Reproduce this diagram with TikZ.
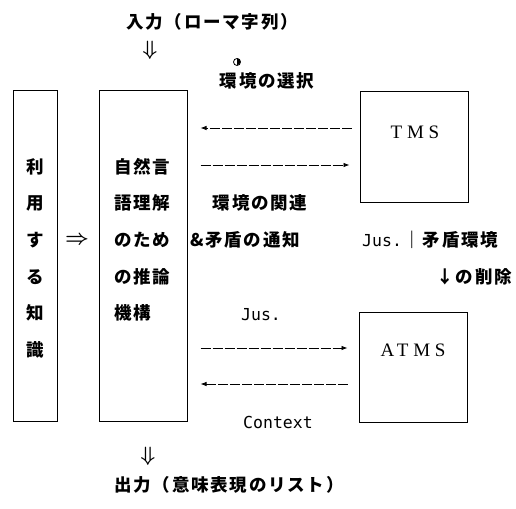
\documentclass[tikz,border=0pt]{standalone}
\usepackage{fontspec}
\newfontfamily\cjk[LetterSpace=10]{Noto Sans CJK JP}
\newfontfamily\mono{DejaVu Sans Mono}
\newfontfamily\serifl[LetterSpace=25]{Liberation Serif}
\usetikzlibrary{arrows.meta}
\begin{document}
\begin{tikzpicture}[x=1pt,y=-1pt,
  box/.style={draw, line width=1pt, inner sep=0pt},
  jp/.style={font=\cjk\bfseries\fontsize{17.5}{17.5}\selectfont, inner sep=0pt},
  lat/.style={font=\mono\fontsize{16.5}{16.5}\selectfont, inner sep=0pt},
  sys/.style={font=\serifl\fontsize{19}{19}\selectfont, inner sep=0pt},
  sym/.style={font=\boldmath\fontsize{20}{20}\selectfont, inner sep=0pt},
  flow/.style={line width=0.8pt, dash pattern=on 10pt off 2pt, -{Latex[length=6pt,width=4.5pt]}}
]
\useasboundingbox (0,0) rectangle (516,508);

% boxes
\node[box, minimum width=44pt, minimum height=330pt] (know) at (35,256) {};
\node[box, minimum width=88pt, minimum height=330pt] (engine) at (143,256) {};
\node[box, minimum width=108pt, minimum height=110pt] (tms) at (414,147) {};
\node[box, minimum width=108pt, minimum height=110pt] (atms) at (413,367) {};

% left box text
\node[jp] (k1) at (35,167) {利};
\node[jp] (k2) at (35,203) {用};
\node[jp] (k3) at (35,240) {す};
\node[jp] (k4) at (35,277) {る};
\node[jp] (k5) at (35,313) {知};
\node[jp] (k6) at (35,350) {識};

% middle box text
\node[jp, anchor=west] (e1) at (114,167) {自然言};
\node[jp, anchor=west] (e2) at (114,203) {語理解};
\node[jp, anchor=west] (e3) at (114,240) {のため};
\node[jp, anchor=west] (e4) at (114,277) {の推論};
\node[jp, anchor=west] (e5) at (114,313) {機構};

\node[sym] (imp) at (77,240) {$\Rightarrow$};

% input / output
\node[jp] (in) at (212,22) {入力（ローマ字列）};
\node[sym] (din) at (150,50) {$\Downarrow$};
\node[sym] (dout) at (148,456) {$\Downarrow$};
\node[jp] (out) at (229,485) {出力（意味表現のリスト）};

% ornament
\node[circle, draw, line width=0.8pt, minimum size=7pt, inner sep=0pt] (orn) at (237,62) {};
\fill (orn.north) arc (90:-90:3.5pt) -- cycle;

% TMS / ATMS
\node[sys] (tmsl) at (415,132) {TMS};
\node[sys] (atmsl) at (413,350) {ATMS};

% arrows
\draw[flow, shorten <=8pt, shorten >=13pt] (tms.west |- 0,128) -- (engine.east |- 0,128);
\draw[flow, shorten <=13pt, shorten >=10pt] (engine.east |- 0,165) -- (tms.west |- 0,165);
\draw[flow, shorten <=13pt, shorten >=11pt] (engine.east |- 0,348) -- (atms.west |- 0,348);
\draw[flow, shorten <=11pt, shorten >=13pt] (atms.west |- 0,384) -- (engine.east |- 0,384);

% labels
\node[jp] (sel) at (267,81) {環境の選択};
\node[jp] (rel) at (260,203) {環境の関連};
\node[jp] (ntf) at (245,240) {\&矛盾の通知};
\node[inner sep=0pt, anchor=west] (jus1) at (362,240) {{\mono\fontsize{16.5}{16.5}\selectfont Jus.}\,{\cjk\bfseries\fontsize{17.5}{17.5}\selectfont ｜矛盾環境}};
\node[jp, anchor=east] (del) at (512,277) {↓の削除};
\node[lat] (jus2) at (261,315) {Jus.};
\node[lat] (ctx) at (278,422) {Context};
\end{tikzpicture}
\end{document}
